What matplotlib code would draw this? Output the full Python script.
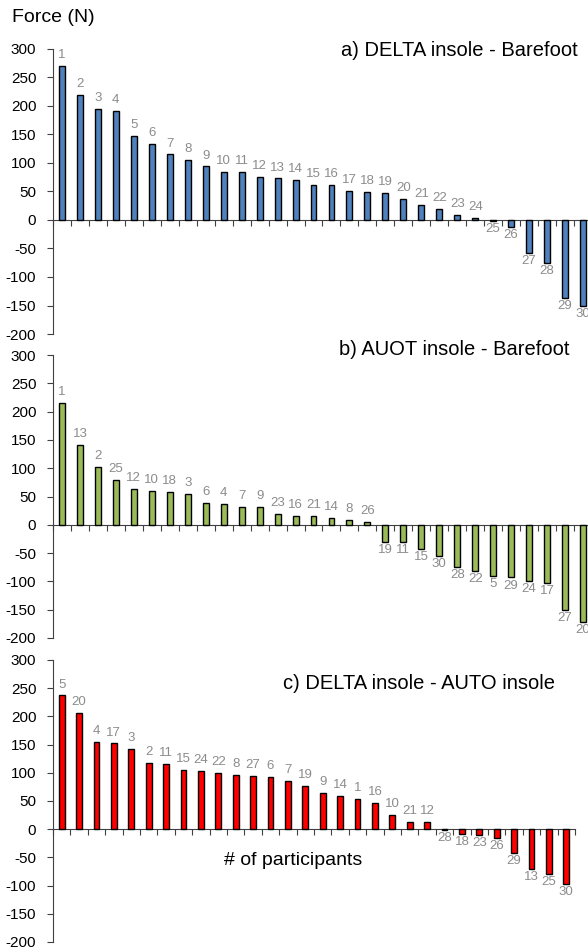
import matplotlib
matplotlib.use("Agg")
import matplotlib.pyplot as plt
import numpy as np

plt.rcParams['font.family'] = ['Liberation Sans', 'DejaVu Sans']

# ---------------------------------------------------------------[data]
ids_a = [1, 2, 3, 4, 5, 6, 7, 8, 9, 10, 11, 12, 13, 14, 15,
         16, 17, 18, 19, 20, 21, 22, 23, 24, 25, 26, 27, 28, 29, 30]
force_a = [270, 220, 195, 192, 147, 133, 115, 105, 94, 85, 85, 76, 73, 70, 62,
           62, 51, 49, 47, 37, 27, 20, 9, 4, -1, -12, -58, -76, -136, -151]

ids_b = [1, 13, 2, 25, 12, 10, 18, 3, 6, 4, 7, 9, 23, 16, 21,
         14, 8, 26, 19, 11, 15, 30, 28, 22, 5, 29, 24, 17, 27, 20]
force_b = [215, 141, 102, 80, 64, 60, 58, 54, 39, 37, 31, 31, 19, 16, 15,
           12, 9, 5, -30, -31, -42, -55, -75, -82, -91, -93, -100, -103, -151, -171]

ids_c = [5, 20, 4, 17, 3, 2, 11, 15, 24, 22, 8, 27, 6, 7, 19,
         9, 14, 1, 16, 10, 21, 12, 28, 18, 23, 26, 29, 13, 25, 30]
force_c = [237, 206, 155, 152, 142, 117, 116, 105, 103, 100, 96, 94, 93, 85, 76,
           64, 59, 53, 46, 26, 13, 13, -1, -8, -11, -15, -42, -70, -80, -97]

titles = ["a) DELTA insole - Barefoot", "b) AUOT insole - Barefoot",
          "c) DELTA insole - AUTO insole"]
colors = ["#4F81BD", "#9BBB59", "#FF0000"]
yticks = [-200, -150, -100, -50, 0, 50, 100, 150, 200, 250, 300]

axis_col = '#404040'
label_col = '#8C8C8C'


def draw_panel(ax, ids, values, color, title, title_xy):
    x = np.arange(len(values))
    ax.bar(x, values, width=0.33, color=color, edgecolor='black', linewidth=1.0, zorder=3)

    for xi, v, lab in zip(x, values, ids):
        if v >= 0:
            ax.annotate(str(lab), (xi, v), xytext=(0, 3.5), textcoords='offset points',
                        ha='center', va='bottom', fontsize=9.5, color=label_col)
        else:
            ax.annotate(str(lab), (xi, v), xytext=(0, -1.5), textcoords='offset points',
                        ha='center', va='top', fontsize=9.5, color=label_col)

    ax.set_xlim(-0.5, len(values) - 0.5)
    ax.set_ylim(-200, 300)
    ax.set_yticks(yticks)
    ax.set_yticklabels([str(t) for t in yticks], fontsize=11)

    # x axis sits on zero, ticks between the bars
    ax.spines['bottom'].set_position(('data', 0))
    ax.spines['top'].set_visible(False)
    ax.spines['right'].set_visible(False)
    ax.spines['left'].set_color(axis_col)
    ax.spines['bottom'].set_color(axis_col)
    ax.set_xticks(np.arange(len(values) + 1) - 0.5)
    ax.set_xticklabels([])
    ax.tick_params(axis='x', direction='out', length=4, color=axis_col)
    ax.tick_params(axis='y', direction='out', length=4, color=axis_col, pad=8)
    ax.patch.set_alpha(0)

    ax.text(title_xy[0], title_xy[1], title, transform=ax.transAxes,
            ha='right', va='center', fontsize=14.5)


fig = plt.figure(figsize=(5.88, 9.47), dpi=100)

ax_a = fig.add_axes([0.0901, 0.6473, 0.9167, 0.3010])
ax_b = fig.add_axes([0.0901, 0.3263, 0.9167, 0.2988])
ax_c = fig.add_axes([0.0901, 0.0053, 0.8878, 0.2978])

draw_panel(ax_a, ids_a, force_a, colors[0], titles[0], (0.974, 0.996))
draw_panel(ax_b, ids_b, force_b, colors[1], titles[1], (0.959, 1.018))
draw_panel(ax_c, ids_c, force_c, colors[2], titles[2], (0.962, 0.918))

ax_c.text(0.46, -55, "# of participants", transform=ax_c.get_yaxis_transform(),
          ha='center', va='center', fontsize=14)

fig.text(0.021, 0.981, "Force (N)", ha='left', va='center', fontsize=14)

fig.savefig("out.png", dpi=100)
